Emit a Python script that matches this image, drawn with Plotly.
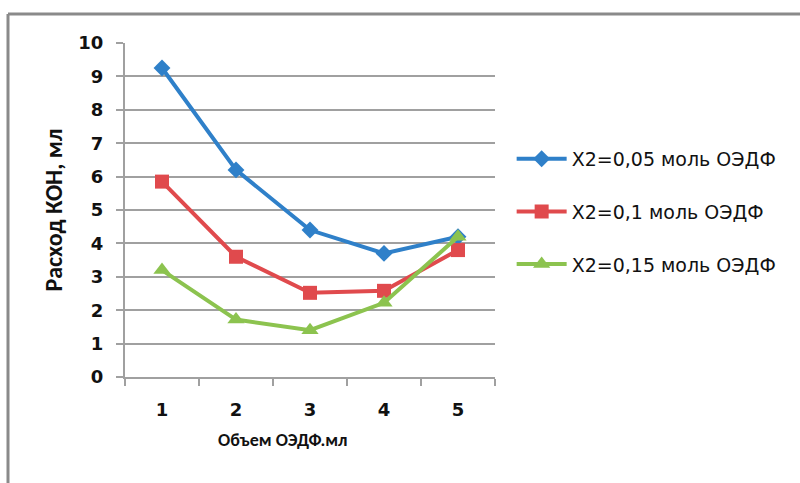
import plotly.graph_objects as go

categories = ["1", "2", "3", "4", "5"]
series_names = ["X2=0,05 моль ОЭДФ", "X2=0,1 моль ОЭДФ", "X2=0,15 моль ОЭДФ"]
blue_vals = [9.25, 6.2, 4.4, 3.7, 4.2]
red_vals = [5.85, 3.6, 2.52, 2.58, 3.8]
green_vals = [3.2, 1.72, 1.4, 2.22, 4.2]
y_ticks = [0, 1, 2, 3, 4, 5, 6, 7, 8, 9, 10]
x_title = "<b>Объем ОЭДФ.мл</b>"
y_title = "<b>Расход КОН, мл</b>"

colors = ["#2f80c9", "#e04a4d", "#8cc34f"]
symbols = ["diamond", "square", "triangle-up"]
sizes = [13, 14, 15]
all_vals = [blue_vals, red_vals, green_vals]

fig = go.Figure()
for i, (name, vals) in enumerate(zip(series_names, all_vals)):
    fig.add_trace(go.Scatter(
        x=categories, y=vals, name=name, mode="lines+markers",
        line=dict(color=colors[i], width=4),
        marker=dict(symbol=symbols[i], size=sizes[i], color=colors[i]),
        legendgroup=f"g{i}",
    ))

narrow = "Carlito, Liberation Sans Narrow, Open Sans, sans-serif"
wide = "DejaVu Sans, sans-serif"
txt = "#111111"

fig.update_layout(
    width=800, height=483,
    margin=dict(l=125, r=305, t=43, b=106),
    paper_bgcolor="white", plot_bgcolor="white",
    font=dict(family=narrow, color=txt),
    showlegend=True,
    legend=dict(
        x=1.045, y=0.71, xanchor="left", yanchor="top",
        traceorder="grouped", tracegroupgap=25,
        font=dict(size=19, color=txt, family=wide),
        itemwidth=50,
    ),
    xaxis=dict(
        type="category", tickson="boundaries", range=[-0.5, 4.5],
        showline=True, linecolor="#a0a0a0", linewidth=2,
        ticks="outside", ticklen=7, tickcolor="#a0a0a0", tickwidth=2,
        ticklabelstandoff=15,
        showgrid=False, tickfont=dict(size=18, color=txt, family=wide, weight="bold"),
    ),
    yaxis=dict(
        range=[0, 10], tickvals=y_ticks,
        showline=True, linecolor="#a0a0a0", linewidth=2,
        ticks="outside", ticklen=7, tickcolor="#a0a0a0", tickwidth=2,
        ticklabelstandoff=9,
        showgrid=True, gridcolor="#a0a0a0", gridwidth=2,
        zeroline=False,
        tickfont=dict(size=18, color=txt, family=wide, weight="bold"),
        title=dict(text=y_title, font=dict(size=24, color=txt, family=narrow), standoff=9),
    ),
)

px_w, px_h = 370.0, 334.0
def xp(px):
    return (px - 125) / px_w
def yp(py):
    return (377 - py) / px_h

fig.add_annotation(text=x_title, xref="paper", yref="paper",
                   x=xp(283), y=yp(440), xanchor="center", yanchor="middle",
                   showarrow=False,
                   font=dict(size=18, color=txt, family=narrow))

fig.add_shape(type="line", xref="paper", yref="paper",
              x0=xp(8), x1=xp(800), y0=yp(14), y1=yp(14),
              line=dict(color="#8a8a8a", width=3))
fig.add_shape(type="line", xref="paper", yref="paper",
              x0=xp(8), x1=xp(8), y0=yp(14), y1=yp(483),
              line=dict(color="#8a8a8a", width=3))

fig.write_html("out.html")
